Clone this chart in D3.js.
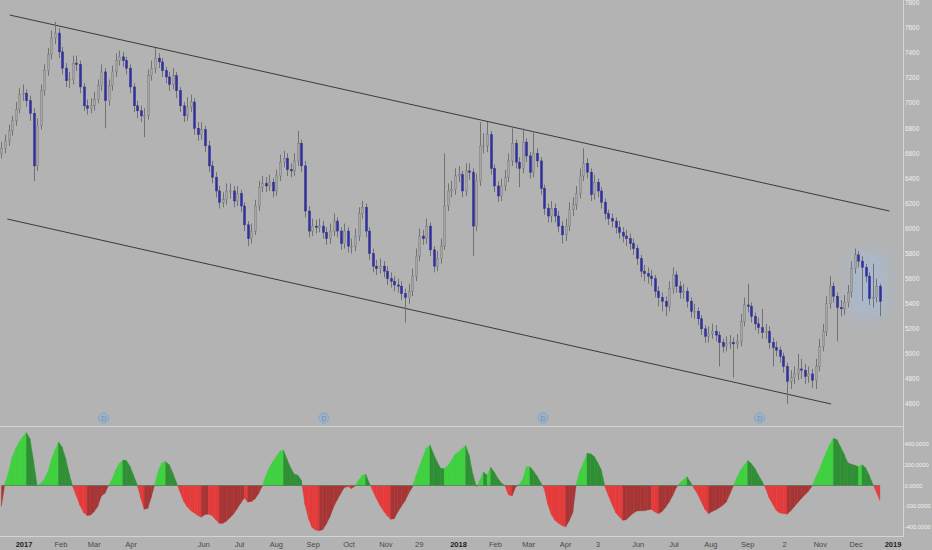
<!DOCTYPE html>
<html><head><meta charset="utf-8">
<script src="https://cdn.jsdelivr.net/npm/d3@7"></script>
<style>html,body{margin:0;padding:0;background:#b3b3b3;}svg{display:block;}</style>
</head><body>
<svg id="chart" width="932" height="550"></svg>
<script>
// ---- DATA ----
const startDate = "2016-12-13"; // first bar, bars every 3 calendar days
const stepDays = 3;
const opens = [6600,6640,6700,6780,6860,6950,7070,7080,7020,6920,6500,6820,7100,7260,7390,7520,7560,7410,7280,7180,7190,7320,7310,7130,6980,6960,6980,7030,7140,7250,7020,7140,7250,7340,7370,7340,7280,7130,6980,6940,6900,6900,7220,7280,7360,7330,7260,7210,7150,7220,7100,6980,6900,6970,7010,6800,6750,6790,6660,6500,6410,6300,6210,6230,6300,6300,6220,6280,6180,6030,5920,5980,6180,6330,6360,6340,6370,6300,6420,6530,6560,6470,6460,6540,6680,6500,6140,5980,6020,6010,6020,5970,5920,5980,6060,5980,5880,5980,5860,5860,5940,6120,6170,5980,5800,5700,5680,5700,5660,5600,5580,5550,5540,5480,5450,5500,5620,5780,5940,5920,6020,5830,5700,5760,5860,6180,6300,6310,6420,6430,6300,6460,6450,6020,6380,6660,6660,6750,6480,6340,6260,6340,6410,6540,6680,6530,6480,6690,6580,6450,6600,6540,6320,6160,6100,6160,6100,6020,5950,6020,6150,6190,6280,6420,6520,6450,6270,6370,6300,6210,6120,6080,6060,6010,5970,5940,5920,5880,5840,5760,5660,5640,5620,5600,5500,5450,5420,5380,5520,5630,5540,5490,5500,5420,5340,5340,5280,5200,5140,5160,5180,5150,5090,5060,5080,5090,5080,5100,5260,5390,5380,5300,5240,5210,5170,5180,5090,5050,5030,4980,4900,4780,4810,4840,4880,4870,4820,4840,4790,4900,5060,5180,5400,5540,5460,5370,5360,5410,5490,5680,5790,5740,5690,5620,5440,5450,5540];
const highs = [6690,6750,6830,6900,7010,7120,7150,7110,7060,6960,6880,7150,7310,7440,7580,7650,7600,7450,7320,7250,7380,7380,7340,7160,7030,7040,7090,7190,7310,7280,7190,7300,7400,7420,7410,7370,7310,7160,7020,6980,6960,7270,7340,7440,7400,7360,7290,7250,7280,7250,7130,7010,7050,7070,7040,6850,6850,6820,6700,6540,6450,6340,6290,6360,6360,6340,6340,6310,6210,6060,6040,6230,6380,6420,6410,6430,6400,6470,6590,6620,6600,6520,6600,6780,6710,6540,6180,6080,6070,6080,6060,6010,6040,6120,6090,6010,6040,6010,5920,6000,6170,6220,6200,6010,5840,5750,5760,5740,5700,5650,5620,5600,5580,5520,5560,5680,5840,6000,5990,6080,6050,5860,5820,5920,6600,6360,6380,6480,6500,6460,6520,6520,6480,6440,6850,6760,6850,6780,6510,6380,6400,6470,6600,6800,6710,6570,6800,6720,6610,6780,6640,6570,6350,6200,6220,6200,6140,6060,6080,6210,6250,6340,6480,6640,6560,6480,6430,6400,6330,6240,6150,6120,6090,6060,6010,5990,5960,5920,5870,5790,5710,5690,5670,5630,5540,5490,5460,5580,5690,5660,5580,5560,5530,5450,5400,5370,5310,5230,5220,5240,5230,5180,5120,5140,5150,5130,5160,5320,5450,5560,5410,5330,5290,5360,5240,5220,5130,5100,5060,5010,4930,4870,4900,5000,4960,4920,4900,4880,4960,5120,5240,5460,5620,5570,5490,5430,5470,5550,5740,5840,5820,5780,5720,5650,5720,5600,5560];
const lows = [6560,6600,6660,6740,6820,6920,7020,6970,6860,6380,6460,6790,7060,7220,7350,7470,7360,7230,7130,7120,7150,7260,7080,6940,6910,6920,6940,7000,7100,6800,6980,7100,7210,7300,7290,7230,7080,6930,6880,6850,6730,6870,7180,7240,7280,7210,7160,7100,7110,7040,6930,6850,6860,6930,6750,6700,6710,6610,6450,6360,6250,6160,6170,6190,6240,6170,6180,6130,5980,5860,5880,5950,6140,6290,6290,6300,6250,6260,6380,6490,6420,6410,6420,6500,6450,6090,5930,5940,5960,5970,5920,5870,5880,5940,5930,5830,5840,5810,5800,5820,5900,6080,5930,5750,5650,5630,5640,5610,5550,5530,5500,5490,5430,5250,5400,5460,5580,5740,5870,5880,5780,5650,5660,5720,5830,6140,6250,6270,6370,6250,6260,6390,5780,5980,6340,6600,6610,6430,6290,6210,6220,6300,6370,6500,6480,6330,6440,6530,6400,6410,6490,6270,6110,6050,6050,6050,5970,5880,5900,5980,6100,6150,6240,6380,6400,6220,6230,6250,6160,6070,6030,6010,5960,5920,5890,5860,5830,5790,5710,5610,5580,5560,5540,5450,5380,5340,5300,5340,5480,5490,5440,5440,5370,5290,5280,5230,5150,5090,5090,5120,5100,4900,5010,5020,5040,4810,5040,5060,5220,5330,5250,5190,5160,5120,5120,5040,4900,4980,4930,4850,4600,4720,4760,4790,4800,4760,4770,4730,4720,4860,5020,5140,5360,5410,5100,5300,5310,5370,5450,5640,5690,5420,5570,5390,5370,5410,5300];
const closes = [6640,6700,6780,6860,6950,7070,7080,7020,6920,6500,6820,7100,7260,7390,7520,7560,7410,7280,7180,7190,7320,7310,7130,6980,6960,6980,7030,7140,7250,7020,7140,7250,7340,7370,7340,7280,7130,6980,6940,6900,6900,7220,7280,7360,7330,7260,7210,7150,7220,7100,6980,6900,6970,7010,6800,6750,6790,6660,6500,6410,6300,6210,6230,6300,6300,6220,6280,6180,6030,5920,5980,6180,6330,6360,6340,6370,6300,6420,6530,6560,6470,6460,6540,6680,6500,6140,5980,6020,6010,6020,5970,5920,5980,6060,5980,5880,5980,5860,5860,5940,6120,6170,5980,5800,5700,5680,5700,5660,5600,5580,5550,5540,5480,5450,5500,5620,5780,5940,5920,6020,5830,5700,5760,5860,6180,6300,6310,6420,6430,6300,6460,6450,6020,6380,6660,6660,6750,6480,6340,6260,6340,6410,6540,6680,6530,6480,6690,6580,6450,6600,6540,6320,6160,6100,6160,6100,6020,5950,6020,6150,6190,6280,6420,6520,6450,6270,6370,6300,6210,6120,6080,6060,6010,5970,5940,5920,5880,5840,5760,5660,5640,5620,5600,5500,5450,5420,5380,5520,5630,5540,5490,5500,5420,5340,5340,5280,5200,5140,5160,5180,5150,5090,5060,5080,5090,5080,5100,5260,5390,5380,5300,5240,5210,5170,5180,5090,5050,5030,4980,4900,4780,4810,4840,4880,4870,4820,4840,4790,4900,5060,5180,5400,5540,5460,5370,5360,5410,5490,5680,5790,5740,5690,5620,5440,5450,5540,5420];
const oscillator = [-200,20,130,270,360,420,470,510,450,240,0,20,60,130,250,340,420,370,260,110,-10,-100,-190,-260,-290,-285,-250,-200,-100,-75,0,60,150,210,245,240,185,100,10,-120,-230,-220,-110,20,150,220,230,200,120,30,-60,-150,-205,-240,-265,-290,-305,-280,-276,-290,-330,-365,-365,-345,-310,-275,-225,-170,-120,-160,-155,-130,-80,-10,90,170,230,280,330,340,250,170,110,100,50,-180,-320,-405,-430,-435,-425,-370,-300,-210,-140,-80,-20,-10,-30,-5,50,95,110,25,-50,-125,-190,-245,-290,-325,-320,-255,-200,-150,-80,-20,85,180,270,360,390,305,230,165,163,190,240,300,325,355,385,290,110,-10,50,130,100,175,130,70,25,0,-90,-100,-15,10,60,180,180,140,90,30,-30,-180,-280,-335,-365,-385,-400,-340,-260,20,140,220,310,305,280,220,150,-10,-100,-180,-260,-300,-335,-330,-295,-265,-245,-244,-243,-235,-230,-255,-272,-250,-210,-160,-95,-20,25,55,85,30,-30,-85,-160,-230,-272,-250,-235,-215,-190,-160,-80,0,80,150,195,240,210,165,100,40,-30,-120,-180,-240,-265,-270,-276,-245,-205,-165,-125,-90,-55,-5,80,150,240,320,400,455,440,370,300,220,205,195,180,200,170,100,15,-60,-146];
const priceTicks = [7800,7600,7400,7200,7000,6800,6600,6400,6200,6000,5800,5600,5400,5200,5000,4800,4600];
const oscTicks = [400,200,0,-200,-400];
const xTickDates = ["2017-01-01","2017-02-01","2017-03-01","2017-04-01","2017-06-01","2017-07-01","2017-08-01","2017-09-01","2017-10-01","2017-11-01","2017-11-29","2018-01-01","2018-02-01","2018-03-01","2018-04-01","2018-04-28","2018-06-01","2018-07-01","2018-08-01","2018-09-01","2018-10-02","2018-11-01","2018-12-01","2019-01-01"];
const xTickLabels = ["2017","Feb","Mar","Apr","Jun","Jul","Aug","Sep","Oct","Nov","29","2018","Feb","Mar","Apr","3","Jun","Jul","Aug","Sep","2","Nov","Dec","2019"];
const boldLabels = ["2017","2018","2019"];
const upperTrend = [["2016-12-20",7704],["2018-12-29",6140]];
const lowerTrend = [["2016-12-18",6076],["2018-11-10",4600]];
const markerDates = ["2017-03-09","2017-09-10","2018-03-13","2018-09-11"];
const markerText = "D";

// ---- SETUP ----
(function () {
const parse = d3.utcParse("%Y-%m-%d");
const svg = d3.select("#chart");
const W = 932, H = 550;
const plotRight = 903;
const x = d3.scaleUtc().domain([parse("2017-01-01"), parse("2019-01-01")]).range([24, 893]);
const y = d3.scaleLinear().domain([4600, 7800]).range([404, 3]);
const yo = d3.scaleLinear().domain([-400, 400]).range([527, 444]);
const font = "'Liberation Sans', Arial, sans-serif";

const start = parse(startDate);
const n = Math.min(opens.length, highs.length, lows.length, closes.length, oscillator.length);
const bars = closes.slice(0, n).map((c, i) => ({
  date: d3.utcDay.offset(start, i * stepDays),
  o: opens[i], h: highs[i], l: lows[i], c: c, v: oscillator[i]
}));

svg.append("rect").attr("width", W).attr("height", H).attr("fill", "#b3b3b3");

const defs = svg.append("defs");
defs.append("filter").attr("id", "blur").attr("x", "-80%").attr("y", "-80%").attr("width", "260%").attr("height", "260%")
  .append("feGaussianBlur").attr("stdDeviation", 8);
defs.append("clipPath").attr("id", "clipTop").append("rect").attr("x", 0).attr("y", 0).attr("width", plotRight).attr("height", 426);

// glow behind last bars
const last = bars[bars.length - 1];
const g0 = bars[bars.length - 9];
svg.append("rect")
  .attr("x", x(g0.date))
  .attr("y", y(5800))
  .attr("width", x(last.date) - x(g0.date) + 6)
  .attr("height", y(5300) - y(5800))
  .attr("fill", "#a3bde0").attr("opacity", 0.6).attr("filter", "url(#blur)");

// ---- separators ----
svg.append("line").attr("x1", 0).attr("x2", plotRight).attr("y1", 426.5).attr("y2", 426.5).attr("stroke", "#d4d4d4").attr("stroke-width", 1);
svg.append("line").attr("x1", 0).attr("x2", plotRight).attr("y1", 536.5).attr("y2", 536.5).attr("stroke", "#d4d4d4").attr("stroke-width", 1);
svg.append("line").attr("x1", plotRight + 0.5).attr("x2", plotRight + 0.5).attr("y1", 0).attr("y2", 537).attr("stroke", "#d4d4d4").attr("stroke-width", 1);

// ---- trend lines ----
const topG = svg.append("g").attr("clip-path", "url(#clipTop)");
[upperTrend, lowerTrend].forEach(t => {
  topG.append("line")
    .attr("x1", x(parse(t[0][0]))).attr("y1", y(t[0][1]))
    .attr("x2", x(parse(t[1][0]))).attr("y2", y(t[1][1]))
    .attr("stroke", "#3a3a3a").attr("stroke-width", 1);
});

// ---- candles ----
const cg = topG.append("g");
bars.forEach(b => {
  const cx = Math.round(x(b.date)) + 0.5;
  const up = b.c >= b.o;
  cg.append("line").attr("x1", cx).attr("x2", cx).attr("y1", y(b.h)).attr("y2", y(b.l))
    .attr("stroke", "#727272").attr("stroke-width", 1);
  const y1 = y(Math.max(b.o, b.c)), y2 = y(Math.min(b.o, b.c));
  cg.append("rect").attr("x", cx - 1).attr("y", y1).attr("width", 2).attr("height", Math.max(1, y2 - y1))
    .attr("fill", up ? "#a6a6a6" : "#30309a")
    .attr("stroke", up ? "#7c7c7c" : "#30309a").attr("stroke-width", 0.5);
});

// ---- markers ----
markerDates.forEach(d => {
  const mx = x(parse(d));
  svg.append("circle").attr("cx", mx).attr("cy", 418).attr("r", 5)
    .attr("fill", "rgba(120,170,220,0.25)").attr("stroke", "#78a9dd").attr("stroke-width", 1);
  svg.append("text").attr("x", mx).attr("y", 420.5).attr("text-anchor", "middle")
    .attr("font-size", 7).attr("font-family", font).attr("fill", "#5b8fcc").text(markerText);
});

// ---- oscillator ----
const og = svg.append("g");
const colors = { gUp: "#3fd13f", gDn: "#2f8f35", rDn: "#e53b3b", rUp: "#a83535" };
function seg(xa, va, xb, vb, col) {
  og.append("path")
    .attr("d", `M${xa},${yo(0)}L${xa},${yo(va)}L${xb},${yo(vb)}L${xb},${yo(0)}Z`)
    .attr("fill", col).attr("stroke", col).attr("stroke-width", 0.4);
}
for (let i = 0; i < bars.length - 1; i++) {
  const a = bars[i], b = bars[i + 1];
  const xa = x(a.date), xb = x(b.date);
  const rising = b.v >= a.v;
  if ((a.v >= 0 && b.v >= 0) || (a.v <= 0 && b.v <= 0)) {
    const pos = (a.v + b.v) >= 0;
    seg(xa, a.v, xb, b.v, pos ? (rising ? colors.gUp : colors.gDn) : (rising ? colors.rUp : colors.rDn));
  } else {
    const t = a.v / (a.v - b.v);
    const xm = xa + (xb - xa) * t;
    const posA = a.v > 0;
    seg(xa, a.v, xm, 0, posA ? (rising ? colors.gUp : colors.gDn) : (rising ? colors.rUp : colors.rDn));
    seg(xm, 0, xb, b.v, !posA ? (rising ? colors.gUp : colors.gDn) : (rising ? colors.rUp : colors.rDn));
  }
}
og.append("line").attr("x1", x(bars[0].date)).attr("x2", x(last.date))
  .attr("y1", yo(0)).attr("y2", yo(0)).attr("stroke", "#5f7a5f").attr("stroke-width", 0.8);

// ---- right axes ----
const ra = svg.append("g").attr("transform", `translate(${plotRight + 1.5},0)`);
const oscFmt = d => d3.format(".4f")(d).replace("−", "-");
ra.selectAll("text.p").data(priceTicks).join("text").attr("class", "p")
  .attr("x", 0.5).attr("y", d => y(d)).attr("dy", "0.35em")
  .attr("font-size", 6.4).attr("font-family", font).attr("fill", "#f0f0f0")
  .text(d => d);
ra.selectAll("text.o").data(oscTicks).join("text").attr("class", "o")
  .attr("x", 0).attr("y", d => yo(d)).attr("dy", "0.35em")
  .attr("font-size", 5.8).attr("font-family", font).attr("fill", "#f0f0f0")
  .text(oscFmt);

// ---- bottom axis ----
const ba = svg.append("g");
xTickDates.forEach((d, i) => {
  const lbl = xTickLabels[i];
  const bold = boldLabels.includes(lbl);
  ba.append("text").attr("x", x(parse(d))).attr("y", 544).attr("dy", "0.35em").attr("text-anchor", "middle")
    .attr("font-size", 7.5).attr("font-family", font)
    .attr("font-weight", bold ? "bold" : "normal")
    .attr("fill", bold ? "#222" : "#4a4a4a").text(lbl);
});
})();
</script>
</body></html>
